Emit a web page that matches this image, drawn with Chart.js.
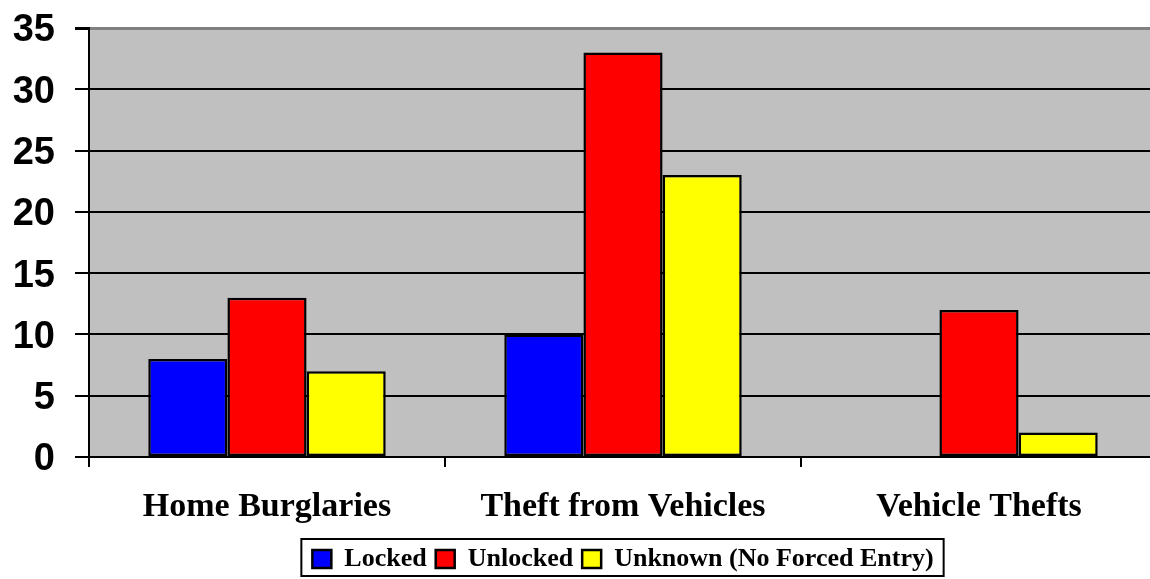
<!DOCTYPE html>
<html>
<head>
<meta charset="utf-8">
<script src="https://cdn.jsdelivr.net/npm/chart.js@4"></script>
<style>
  html, body { margin: 0; padding: 0; background: #fff; overflow: hidden; }
  #wrap { width: 1150px; height: 579px; overflow: hidden; }
  canvas { display: block; }
</style>
</head>
<body>
<div id="wrap"><canvas id="myChart" width="1157" height="579"></canvas></div>
<script>
// datos
const categories = ['Home Burglaries', 'Theft from Vehicles', 'Vehicle Thefts'];
const lockedVals = [8, 10, 0];
const unlockedVals = [13, 33, 12];
const unknownVals = [7, 23, 2];
const yMin = 0, yMax = 35, yStep = 5;

// fondo gris del area de trazado
const plotBg = {
  id: 'plotBg',
  beforeDraw(chart) {
    const a = chart.chartArea, ctx = chart.ctx;
    ctx.save();
    ctx.fillStyle = '#c0c0c0';
    ctx.fillRect(a.left, a.top, a.right - a.left, a.bottom - a.top);
    ctx.restore();
  }
};

// recuadro de la leyenda + altura fija
const legendBox = {
  id: 'legendBox',
  beforeLayout(chart) {
    const lg = chart.legend;
    if (lg && !lg._patched) {
      const fit = lg.fit;
      lg.fit = function() { fit.call(this); this.height = 42; };
      lg._patched = true;
    }
  },
  afterDraw(chart) {
    const hb = chart.legend.legendHitBoxes;
    if (!hb || !hb.length) return;
    let l = Infinity, r = -Infinity;
    hb.forEach(b => { l = Math.min(l, b.left); r = Math.max(r, b.left + b.width); });
    const ctx = chart.ctx;
    ctx.save();
    ctx.strokeStyle = '#000';
    ctx.lineWidth = 2;
    ctx.strokeRect(l - 11, 539, (r + 10) - (l - 11), 37);
    ctx.restore();
  }
};

const ctx = document.getElementById('myChart').getContext('2d');
new Chart(ctx, {
  type: 'bar',
  data: {
    labels: categories,
    datasets: [
      { label: 'Locked', data: lockedVals, backgroundColor: '#0000ff', borderColor: '#000', borderWidth: 2.5 },
      { label: 'Unlocked', data: unlockedVals, backgroundColor: '#ff0000', borderColor: '#000', borderWidth: 2.5 },
      { label: 'Unknown (No Forced Entry)', data: unknownVals, backgroundColor: '#ffff00', borderColor: '#000', borderWidth: 2.5 }
    ]
  },
  options: {
    responsive: false,
    animation: false,
    layout: { padding: { top: 28, left: 0, right: 0, bottom: 0 } },
    datasets: { bar: { categoryPercentage: 0.667, barPercentage: 1.0, borderSkipped: false } },
    plugins: {
      tooltip: { enabled: false },
      legend: {
        position: 'bottom',
        fullSize: false,
        labels: {
          boxWidth: 19,
          boxHeight: 18,
          padding: 9,
          color: '#000',
          font: { family: '"Liberation Serif", "Times New Roman", serif', size: 26, weight: 'bold' }
        }
      }
    },
    scales: {
      x: {
        afterFit(s) { s.height = 80; },
        border: { color: '#000', width: 2 },
        grid: { drawOnChartArea: false, color: '#000', lineWidth: 2, tickLength: 10, offset: true },
        ticks: {
          color: '#000',
          padding: 20,
          maxRotation: 0,
          font: { family: '"Liberation Serif", "Times New Roman", serif', size: 34, weight: 'bold' }
        }
      },
      y: {
        min: yMin,
        max: yMax,
        afterFit(s) { s.width = 89; },
        border: { color: '#000', width: 2 },
        grid: {
          color: c => (c.tick && c.tick.value === yMax) ? '#808080' : '#000',
          lineWidth: c => (c.tick && c.tick.value === yMax) ? 3 : 2,
          tickColor: '#000',
          tickLength: 14
        },
        ticks: {
          stepSize: yStep,
          color: '#000',
          padding: 20,
          labelOffset: 3,
          font: { family: '"Liberation Sans", Arial, sans-serif', size: 38, weight: 'bold', lineHeight: 0.4 }
        }
      }
    }
  },
  plugins: [plotBg, legendBox]
});
</script>
</body>
</html>
